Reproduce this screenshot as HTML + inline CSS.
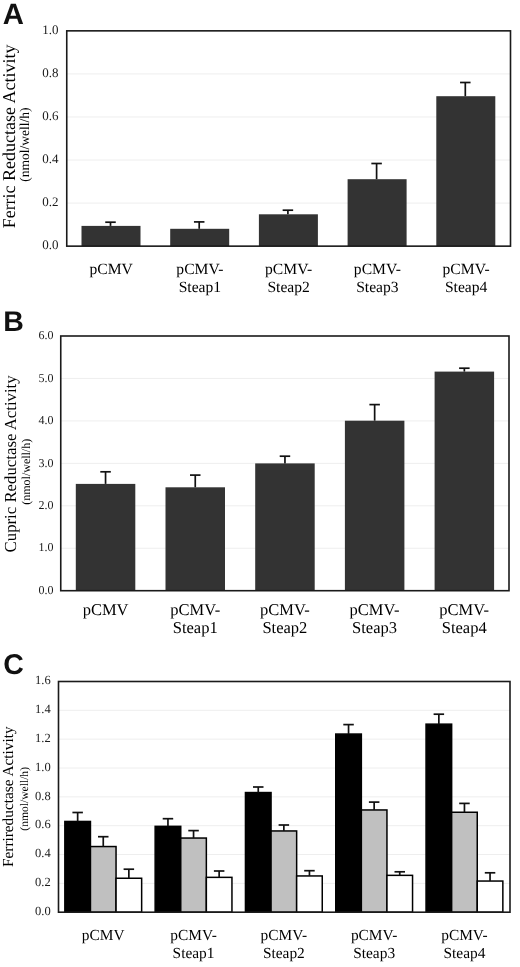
<!DOCTYPE html>
<html><head><meta charset="utf-8"><style>
html,body{margin:0;padding:0;background:#fff;}
body{width:520px;height:967px;overflow:hidden;font-family:"Liberation Serif", serif;}
svg{display:block;text-rendering:geometricPrecision;filter:blur(0.3px);}
</style></head><body>
<svg width="520" height="967" viewBox="0 0 520 967">
<style>
.tk{font-family:"Liberation Serif",serif;fill:#1a1a1a;text-anchor:end;dominant-baseline:central}
.xl{font-family:"Liberation Serif",serif;fill:#000;text-anchor:middle}
.yl{font-family:"Liberation Serif",serif;fill:#000;text-anchor:middle}
.pl{font-family:"Liberation Sans",sans-serif;font-weight:bold;fill:#111}
</style>
<rect x="0" y="0" width="520" height="967" fill="#fff"/>
<line x1="66.75" y1="203.09" x2="510.5" y2="203.09" stroke="#eeeeee" stroke-width="1"/>
<line x1="66.75" y1="160.03" x2="510.5" y2="160.03" stroke="#eeeeee" stroke-width="1"/>
<line x1="66.75" y1="116.97" x2="510.5" y2="116.97" stroke="#eeeeee" stroke-width="1"/>
<line x1="66.75" y1="73.91" x2="510.5" y2="73.91" stroke="#eeeeee" stroke-width="1"/>
<rect x="81.50" y="225.9" width="59" height="20.25" fill="#333333"/>
<line x1="110.50" y1="225.90" x2="110.50" y2="222.20" stroke="#111" stroke-width="1.7"/>
<line x1="105.25" y1="222.20" x2="115.75" y2="222.20" stroke="#111" stroke-width="1.7"/>
<rect x="170.20" y="228.8" width="59" height="17.35" fill="#333333"/>
<line x1="199.20" y1="228.80" x2="199.20" y2="221.90" stroke="#111" stroke-width="1.7"/>
<line x1="193.95" y1="221.90" x2="204.45" y2="221.90" stroke="#111" stroke-width="1.7"/>
<rect x="258.90" y="214.3" width="59" height="31.85" fill="#333333"/>
<line x1="287.90" y1="214.30" x2="287.90" y2="210.20" stroke="#111" stroke-width="1.7"/>
<line x1="282.65" y1="210.20" x2="293.15" y2="210.20" stroke="#111" stroke-width="1.7"/>
<rect x="347.60" y="179.2" width="59" height="66.95" fill="#333333"/>
<line x1="376.60" y1="179.20" x2="376.60" y2="163.50" stroke="#111" stroke-width="1.7"/>
<line x1="371.35" y1="163.50" x2="381.85" y2="163.50" stroke="#111" stroke-width="1.7"/>
<rect x="436.30" y="96.2" width="59" height="149.95" fill="#333333"/>
<line x1="465.30" y1="96.20" x2="465.30" y2="82.50" stroke="#111" stroke-width="1.7"/>
<line x1="460.05" y1="82.50" x2="470.55" y2="82.50" stroke="#111" stroke-width="1.7"/>
<rect x="66.75" y="30.85" width="443.75" height="215.30" fill="none" stroke="#1a1a1a" stroke-width="1.6"/>
<text x="58.6" y="244.85" font-size="13" class="tk">0.0</text>
<text x="58.6" y="201.79" font-size="13" class="tk">0.2</text>
<text x="58.6" y="158.73" font-size="13" class="tk">0.4</text>
<text x="58.6" y="115.67" font-size="13" class="tk">0.6</text>
<text x="58.6" y="72.61" font-size="13" class="tk">0.8</text>
<text x="58.6" y="29.55" font-size="13" class="tk">1.0</text>
<text x="111.12" y="273.8" font-size="15.6" class="xl">pCMV</text>
<text x="199.88" y="273.8" font-size="15.6" class="xl">pCMV-</text>
<text x="199.88" y="291.8" font-size="15.6" class="xl">Steap1</text>
<text x="288.62" y="273.8" font-size="15.6" class="xl">pCMV-</text>
<text x="288.62" y="291.8" font-size="15.6" class="xl">Steap2</text>
<text x="377.38" y="273.8" font-size="15.6" class="xl">pCMV-</text>
<text x="377.38" y="291.8" font-size="15.6" class="xl">Steap3</text>
<text x="466.12" y="273.8" font-size="15.6" class="xl">pCMV-</text>
<text x="466.12" y="291.8" font-size="15.6" class="xl">Steap4</text>
<text x="14.8" y="136.4" font-size="18" class="yl" transform="rotate(-90 14.8 136.4)">Ferric Reductase Activity</text>
<text x="29.0" y="144.7" font-size="13.5" class="yl" transform="rotate(-90 29.0 144.7)">(nmol/well/h)</text>
<text x="2.7" y="23.9" font-size="29.3" class="pl">A</text>
<line x1="60.75" y1="548.25" x2="509.0" y2="548.25" stroke="#eeeeee" stroke-width="1"/>
<line x1="60.75" y1="505.80" x2="509.0" y2="505.80" stroke="#eeeeee" stroke-width="1"/>
<line x1="60.75" y1="463.35" x2="509.0" y2="463.35" stroke="#eeeeee" stroke-width="1"/>
<line x1="60.75" y1="420.90" x2="509.0" y2="420.90" stroke="#eeeeee" stroke-width="1"/>
<line x1="60.75" y1="378.45" x2="509.0" y2="378.45" stroke="#eeeeee" stroke-width="1"/>
<rect x="75.80" y="483.9" width="59.5" height="106.80" fill="#333333"/>
<line x1="105.55" y1="483.90" x2="105.55" y2="471.80" stroke="#111" stroke-width="1.7"/>
<line x1="100.30" y1="471.80" x2="110.80" y2="471.80" stroke="#111" stroke-width="1.7"/>
<rect x="165.50" y="487.3" width="59.5" height="103.40" fill="#333333"/>
<line x1="195.25" y1="487.30" x2="195.25" y2="475.10" stroke="#111" stroke-width="1.7"/>
<line x1="190.00" y1="475.10" x2="200.50" y2="475.10" stroke="#111" stroke-width="1.7"/>
<rect x="255.20" y="463.4" width="59.5" height="127.30" fill="#333333"/>
<line x1="284.95" y1="463.40" x2="284.95" y2="456.20" stroke="#111" stroke-width="1.7"/>
<line x1="279.70" y1="456.20" x2="290.20" y2="456.20" stroke="#111" stroke-width="1.7"/>
<rect x="344.90" y="420.7" width="59.5" height="170.00" fill="#333333"/>
<line x1="374.65" y1="420.70" x2="374.65" y2="404.60" stroke="#111" stroke-width="1.7"/>
<line x1="369.40" y1="404.60" x2="379.90" y2="404.60" stroke="#111" stroke-width="1.7"/>
<rect x="434.60" y="371.6" width="59.5" height="219.10" fill="#333333"/>
<line x1="464.35" y1="371.60" x2="464.35" y2="368.20" stroke="#111" stroke-width="1.7"/>
<line x1="459.10" y1="368.20" x2="469.60" y2="368.20" stroke="#111" stroke-width="1.7"/>
<rect x="60.75" y="336.0" width="448.25" height="254.70" fill="none" stroke="#1a1a1a" stroke-width="1.6"/>
<text x="53.4" y="589.90" font-size="12" class="tk">0.0</text>
<text x="53.4" y="547.45" font-size="12" class="tk">1.0</text>
<text x="53.4" y="505.00" font-size="12" class="tk">2.0</text>
<text x="53.4" y="462.55" font-size="12" class="tk">3.0</text>
<text x="53.4" y="420.10" font-size="12" class="tk">4.0</text>
<text x="53.4" y="377.65" font-size="12" class="tk">5.0</text>
<text x="53.4" y="335.20" font-size="12" class="tk">6.0</text>
<text x="105.58" y="615" font-size="16.5" class="xl">pCMV</text>
<text x="195.23" y="615" font-size="16.5" class="xl">pCMV-</text>
<text x="195.23" y="632.5" font-size="16.5" class="xl">Steap1</text>
<text x="284.88" y="615" font-size="16.5" class="xl">pCMV-</text>
<text x="284.88" y="632.5" font-size="16.5" class="xl">Steap2</text>
<text x="374.53" y="615" font-size="16.5" class="xl">pCMV-</text>
<text x="374.53" y="632.5" font-size="16.5" class="xl">Steap3</text>
<text x="464.18" y="615" font-size="16.5" class="xl">pCMV-</text>
<text x="464.18" y="632.5" font-size="16.5" class="xl">Steap4</text>
<text x="16.2" y="463.9" font-size="16.8" class="yl" transform="rotate(-90 16.2 463.9)">Cupric Reductase Activity</text>
<text x="29.8" y="471.8" font-size="12" class="yl" transform="rotate(-90 29.8 471.8)">(nmol/well/h)</text>
<text x="3.3" y="331.0" font-size="28.5" class="pl">B</text>
<line x1="58.5" y1="883.36" x2="510.0" y2="883.36" stroke="#eeeeee" stroke-width="1"/>
<line x1="58.5" y1="854.53" x2="510.0" y2="854.53" stroke="#eeeeee" stroke-width="1"/>
<line x1="58.5" y1="825.69" x2="510.0" y2="825.69" stroke="#eeeeee" stroke-width="1"/>
<line x1="58.5" y1="796.85" x2="510.0" y2="796.85" stroke="#eeeeee" stroke-width="1"/>
<line x1="58.5" y1="768.01" x2="510.0" y2="768.01" stroke="#eeeeee" stroke-width="1"/>
<line x1="58.5" y1="739.17" x2="510.0" y2="739.17" stroke="#eeeeee" stroke-width="1"/>
<line x1="58.5" y1="710.34" x2="510.0" y2="710.34" stroke="#eeeeee" stroke-width="1"/>
<rect x="64.85" y="821.45" width="25.6" height="90.75" fill="#000" stroke="#000" stroke-width="1.5"/>
<line x1="77.65" y1="821.45" x2="77.65" y2="812.50" stroke="#111" stroke-width="1.7"/>
<line x1="72.40" y1="812.50" x2="82.90" y2="812.50" stroke="#111" stroke-width="1.7"/>
<rect x="90.45" y="846.55" width="25.6" height="65.65" fill="#c0c0c0" stroke="#000" stroke-width="1.5"/>
<line x1="103.25" y1="846.55" x2="103.25" y2="836.70" stroke="#111" stroke-width="1.7"/>
<line x1="98.00" y1="836.70" x2="108.50" y2="836.70" stroke="#111" stroke-width="1.7"/>
<rect x="116.05" y="878.25" width="25.6" height="33.95" fill="#fff" stroke="#000" stroke-width="1.5"/>
<line x1="128.85" y1="878.25" x2="128.85" y2="869.20" stroke="#111" stroke-width="1.7"/>
<line x1="123.60" y1="869.20" x2="134.10" y2="869.20" stroke="#111" stroke-width="1.7"/>
<rect x="155.15" y="826.35" width="25.6" height="85.85" fill="#000" stroke="#000" stroke-width="1.5"/>
<line x1="167.95" y1="826.35" x2="167.95" y2="818.70" stroke="#111" stroke-width="1.7"/>
<line x1="162.70" y1="818.70" x2="173.20" y2="818.70" stroke="#111" stroke-width="1.7"/>
<rect x="180.75" y="838.05" width="25.6" height="74.15" fill="#c0c0c0" stroke="#000" stroke-width="1.5"/>
<line x1="193.55" y1="838.05" x2="193.55" y2="830.60" stroke="#111" stroke-width="1.7"/>
<line x1="188.30" y1="830.60" x2="198.80" y2="830.60" stroke="#111" stroke-width="1.7"/>
<rect x="206.35" y="877.35" width="25.6" height="34.85" fill="#fff" stroke="#000" stroke-width="1.5"/>
<line x1="219.15" y1="877.35" x2="219.15" y2="871.00" stroke="#111" stroke-width="1.7"/>
<line x1="213.90" y1="871.00" x2="224.40" y2="871.00" stroke="#111" stroke-width="1.7"/>
<rect x="245.45" y="792.55" width="25.6" height="119.65" fill="#000" stroke="#000" stroke-width="1.5"/>
<line x1="258.25" y1="792.55" x2="258.25" y2="787.00" stroke="#111" stroke-width="1.7"/>
<line x1="253.00" y1="787.00" x2="263.50" y2="787.00" stroke="#111" stroke-width="1.7"/>
<rect x="271.05" y="830.95" width="25.6" height="81.25" fill="#c0c0c0" stroke="#000" stroke-width="1.5"/>
<line x1="283.85" y1="830.95" x2="283.85" y2="825.00" stroke="#111" stroke-width="1.7"/>
<line x1="278.60" y1="825.00" x2="289.10" y2="825.00" stroke="#111" stroke-width="1.7"/>
<rect x="296.65" y="875.95" width="25.6" height="36.25" fill="#fff" stroke="#000" stroke-width="1.5"/>
<line x1="309.45" y1="875.95" x2="309.45" y2="870.70" stroke="#111" stroke-width="1.7"/>
<line x1="304.20" y1="870.70" x2="314.70" y2="870.70" stroke="#111" stroke-width="1.7"/>
<rect x="335.75" y="734.05" width="25.6" height="178.15" fill="#000" stroke="#000" stroke-width="1.5"/>
<line x1="348.55" y1="734.05" x2="348.55" y2="724.60" stroke="#111" stroke-width="1.7"/>
<line x1="343.30" y1="724.60" x2="353.80" y2="724.60" stroke="#111" stroke-width="1.7"/>
<rect x="361.35" y="809.95" width="25.6" height="102.25" fill="#c0c0c0" stroke="#000" stroke-width="1.5"/>
<line x1="374.15" y1="809.95" x2="374.15" y2="802.10" stroke="#111" stroke-width="1.7"/>
<line x1="368.90" y1="802.10" x2="379.40" y2="802.10" stroke="#111" stroke-width="1.7"/>
<rect x="386.95" y="875.35" width="25.6" height="36.85" fill="#fff" stroke="#000" stroke-width="1.5"/>
<line x1="399.75" y1="875.35" x2="399.75" y2="871.80" stroke="#111" stroke-width="1.7"/>
<line x1="394.50" y1="871.80" x2="405.00" y2="871.80" stroke="#111" stroke-width="1.7"/>
<rect x="426.05" y="724.15" width="25.6" height="188.05" fill="#000" stroke="#000" stroke-width="1.5"/>
<line x1="438.85" y1="724.15" x2="438.85" y2="714.20" stroke="#111" stroke-width="1.7"/>
<line x1="433.60" y1="714.20" x2="444.10" y2="714.20" stroke="#111" stroke-width="1.7"/>
<rect x="451.65" y="812.25" width="25.6" height="99.95" fill="#c0c0c0" stroke="#000" stroke-width="1.5"/>
<line x1="464.45" y1="812.25" x2="464.45" y2="803.40" stroke="#111" stroke-width="1.7"/>
<line x1="459.20" y1="803.40" x2="469.70" y2="803.40" stroke="#111" stroke-width="1.7"/>
<rect x="477.25" y="881.05" width="25.6" height="31.15" fill="#fff" stroke="#000" stroke-width="1.5"/>
<line x1="490.05" y1="881.05" x2="490.05" y2="872.80" stroke="#111" stroke-width="1.7"/>
<line x1="484.80" y1="872.80" x2="495.30" y2="872.80" stroke="#111" stroke-width="1.7"/>
<rect x="58.5" y="681.5" width="451.50" height="230.70" fill="none" stroke="#1a1a1a" stroke-width="1.6"/>
<text x="50.7" y="910.90" font-size="12.5" class="tk">0.0</text>
<text x="50.7" y="882.06" font-size="12.5" class="tk">0.2</text>
<text x="50.7" y="853.23" font-size="12.5" class="tk">0.4</text>
<text x="50.7" y="824.39" font-size="12.5" class="tk">0.6</text>
<text x="50.7" y="795.55" font-size="12.5" class="tk">0.8</text>
<text x="50.7" y="766.71" font-size="12.5" class="tk">1.0</text>
<text x="50.7" y="737.88" font-size="12.5" class="tk">1.2</text>
<text x="50.7" y="709.04" font-size="12.5" class="tk">1.4</text>
<text x="50.7" y="680.20" font-size="12.5" class="tk">1.6</text>
<text x="103.25" y="939.8" font-size="15.4" class="xl">pCMV</text>
<text x="193.55" y="939.8" font-size="15.4" class="xl">pCMV-</text>
<text x="193.55" y="958" font-size="15.4" class="xl">Steap1</text>
<text x="283.85" y="939.8" font-size="15.4" class="xl">pCMV-</text>
<text x="283.85" y="958" font-size="15.4" class="xl">Steap2</text>
<text x="374.15" y="939.8" font-size="15.4" class="xl">pCMV-</text>
<text x="374.15" y="958" font-size="15.4" class="xl">Steap3</text>
<text x="464.45" y="939.8" font-size="15.4" class="xl">pCMV-</text>
<text x="464.45" y="958" font-size="15.4" class="xl">Steap4</text>
<text x="12.8" y="796.7" font-size="15.3" class="yl" transform="rotate(-90 12.8 796.7)">Ferrireductase Activity</text>
<text x="27.6" y="798.85" font-size="11.6" class="yl" transform="rotate(-90 27.6 798.85)">(nmol/well/h)</text>
<text x="3.2" y="673.8" font-size="28.5" class="pl">C</text>
</svg>
</body></html>
